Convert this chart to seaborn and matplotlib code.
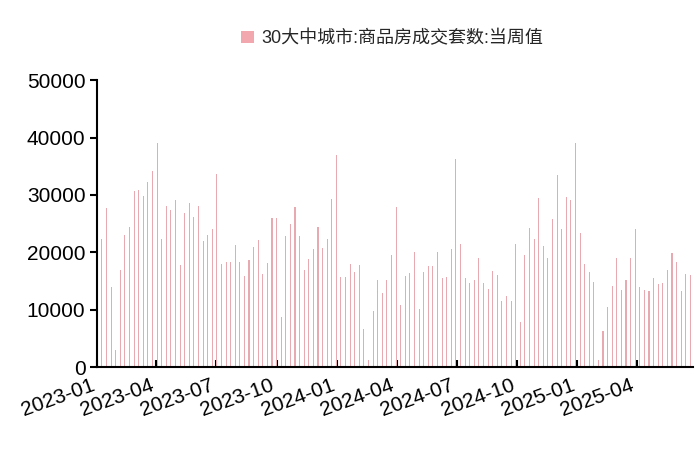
import numpy as np
import pandas as pd
import matplotlib
matplotlib.use("Agg")
import matplotlib.pyplot as plt
import matplotlib.dates as mdates
import seaborn as sns

values = [22.3, 27.8, 14.0, 3.0, 17.0, 23.1, 24.5, 30.7, 30.8, 29.8, 32.3, 34.2, 39.0,
          22.4, 28.0, 27.4, 29.1, 17.8, 26.9, 28.6, 26.1, 28.0, 21.9, 23.0, 24.1, 33.7,
          18.0, 18.3, 18.3, 21.3, 18.3, 15.9, 18.7, 21.0, 22.1, 16.3, 18.1, 26.0, 26.0,
          8.7, 22.8, 25.0, 27.9,
          22.9, 17.0, 18.9, 20.6, 24.4, 20.7, 22.3, 29.3, 36.9, 15.7, 15.7, 18.0, 16.5,
          17.8, 6.7, 1.2, 9.8, 15.2, 13.0, 15.1, 19.5, 27.9, 10.9, 15.9, 16.4, 20.0,
          10.1, 16.6, 17.7, 17.6, 20.0, 15.5, 15.7, 20.5, 36.2, 21.5, 15.5, 14.6, 15.1,
          19.1, 14.7, 13.6,
          16.7, 16.1, 11.5, 12.4, 11.5, 21.4, 7.9, 19.5, 24.3, 22.4, 29.5, 21.1, 19.0,
          25.8, 33.4, 24.0, 29.7, 29.1, 39.0, 23.4, 18.0, 16.5, 14.9, 1.2, 6.3, 10.5,
          14.1, 19.1, 13.5, 15.2, 19.0, 24.0, 13.9, 13.4, 13.2, 15.5, 14.5, 14.7, 16.9,
          19.9, 18.3, 13.2, 16.3, 16.0]
values = [v * 1000 for v in values]
dates = pd.date_range("2023-01-08", periods=len(values), freq="7D")
series_name = "30大中城市:商品房成交套数:当周值"
tick_dates = pd.date_range("2023-01-01", "2025-04-01", freq="QS")
tick_labels = [d.strftime("%Y-%m") for d in tick_dates]

sns.set_style("ticks")
plt.rcParams['font.family'] = ['Liberation Sans', 'Noto Sans CJK SC', 'DejaVu Sans']

fig = plt.figure(figsize=(7, 4.55), dpi=100)
ax = fig.add_axes([0.139, 0.193, 0.851, 0.631])
ax.bar(dates, values, width=1.6, color="#e8aab0", linewidth=0, label=series_name)
ax.set_ylim(0, 50000)
ax.set_yticks(range(0, 50001, 10000))
ax.set_xlim(pd.Timestamp("2023-01-01"), pd.Timestamp("2025-06-26"))
ax.set_xticks(tick_dates)
ax.set_xticklabels(tick_labels, rotation=20, ha="right")
ax.tick_params(axis="both", labelsize=15, length=5, width=1.5, colors="black")
ax.tick_params(axis="x", direction="in", pad=6)
for s in ["top", "right"]:
    ax.spines[s].set_visible(False)
for s in ["left", "bottom"]:
    ax.spines[s].set_linewidth(1.5)
    ax.spines[s].set_color("black")
leg = fig.legend(loc="upper center", bbox_to_anchor=(0.56, 0.97), frameon=False,
                 fontsize=13, handlelength=0.7, handleheight=0.7, handletextpad=0.4)
for h in leg.legend_handles:
    h.set_color("#f2a6ae")
fig.savefig("out.png", dpi=100)
